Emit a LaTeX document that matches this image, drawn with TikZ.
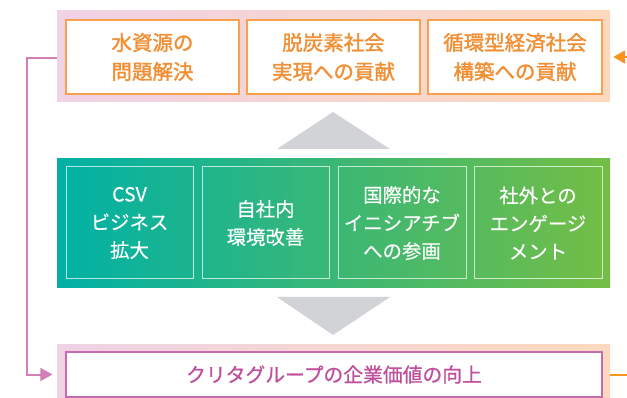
\documentclass[tikz,border=0pt]{standalone}
\usepackage{fontspec}
\newfontfamily\jp{Noto Sans CJK JP}[RawFeature={embolden=1.6}]
\newfontfamily\jpw{Noto Sans CJK JP}[RawFeature={embolden=0.8}]
\usetikzlibrary{arrows.meta}
\definecolor{bandL}{HTML}{EFD3E6}
\definecolor{bandR}{HTML}{FCD9BE}
\definecolor{orangeT}{HTML}{F18F34}
\definecolor{orangeB}{HTML}{F7A04E}
\definecolor{orangeL}{HTML}{F7941D}
\definecolor{pinkL}{HTML}{D27EB9}
\definecolor{pinkB}{HTML}{C76BB0}
\definecolor{pinkT}{HTML}{C0509E}
\definecolor{grayT}{HTML}{D1D3D6}
\definecolor{tealL}{HTML}{00B1A6}
\definecolor{greenR}{HTML}{74BE45}
\tikzset{
  band/.style={inner sep=0pt, left color=bandL, right color=bandR, draw=none},
  gband/.style={inner sep=0pt, left color=tealL, right color=greenR, draw=none},
  topbox/.style={draw=orangeB, line width=1.3pt, fill=white, inner sep=0pt,
    minimum height=74pt, align=center, text=orangeT,
    font=\jp\fontsize{20.5}{29}\selectfont},
  midbox/.style={draw=white, draw opacity=0.7, line width=1pt, inner sep=0pt,
    minimum width=127pt, minimum height=112pt, align=center, text=white,
    font=\jpw\fontsize{19.4}{28}\selectfont},
  botbox/.style={draw=pinkB, line width=1.3pt, fill=white, inner sep=0pt,
    minimum width=536pt, minimum height=45pt, align=center, text=pinkT,
    font=\jpw\fontsize{19.8}{28}\selectfont},
  pinkline/.style={draw=pinkL, line width=2pt},
  orangeline/.style={draw=orangeL, line width=2pt},
  tip/.style={-{Triangle[length=12pt,width=13pt]}}
}
\begin{document}
\begin{tikzpicture}[x=1pt,y=-1pt]
\useasboundingbox (0,0) rectangle (627,398);
% bands
\node[band, minimum width=553pt, minimum height=91pt] (topband) at (333.5,56.5) {};
\node[gband, minimum width=553pt, minimum height=129pt] (midband) at (333.5,223.5) {};
\node[band, minimum width=553pt, minimum height=54pt] (botband) at (333.5,371) {};
% top boxes
\node[topbox, minimum width=173pt] (t1) at (152.5,57) {水資源の\\問題解決};
\node[topbox, minimum width=173pt] (t2) at (333.5,57) {脱炭素社会\\実現への貢献};
\node[topbox, minimum width=174pt] (t3) at (515,57) {循環型経済社会\\構築への貢献};
% middle boxes
\node[midbox] (m1) at (129.5,223) {CSV\\ビジネス\\拡大};
\node[midbox] (m2) at (265.5,223) {自社内\\環境改善};
\node[midbox, minimum width=128pt] (m3) at (402,223) {国際的な\\イニシアチブ\\への参画};
\node[midbox, minimum width=128pt] (m4) at (538,223) {社外との\\エンゲージ\\メント};
% bottom box
\node[botbox] (b1) at (334,374.5) {クリタグループの企業価値の向上};
% gray triangles
\fill[grayT] (333,112) -- (390,149) -- (277,149) -- cycle;
\fill[grayT] (277,297) -- (390,297) -- (333,335) -- cycle;
% connectors
\coordinate (pk) at (27,58);
\draw[pinkline, tip] ([yshift=-1.5pt]topband.west) -- (pk) |- ([xshift=-13pt]b1.west);
\coordinate (oe1) at (627,374.5);
\coordinate (oe2) at (630,57);
\draw[orangeline] (botband.east |- b1.east) -- (oe1);
\draw[orangeline, tip] (oe2) -- ([xshift=3pt]topband.east |- t3.east);
\end{tikzpicture}
\end{document}
